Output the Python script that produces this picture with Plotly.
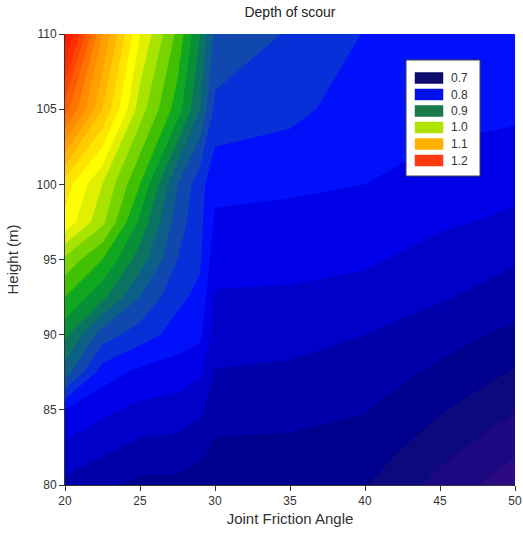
import plotly.graph_objects as go

# Joint friction angle (deg) and height (m) of the sampled grid
friction_angle = [20, 22.5, 25, 27.5, 29, 30, 35, 40, 45, 50]
height = [80, 82.5, 85, 87.5, 90, 92.5, 95, 97.5, 100, 105, 110]

# Depth of scour, one row per height, one column per friction angle
scour_h80 = [0.755, 0.745, 0.735, 0.735, 0.732, 0.726, 0.725, 0.721, 0.693, 0.668]
scour_h82_5 = [0.775, 0.765, 0.755, 0.752, 0.745, 0.737, 0.736, 0.732, 0.708, 0.684]
scour_h85 = [0.800, 0.785, 0.775, 0.772, 0.765, 0.748, 0.746, 0.741, 0.722, 0.701]
scour_h87_5 = [0.870, 0.810, 0.795, 0.790, 0.783, 0.759, 0.756, 0.751, 0.736, 0.718]
scour_h90 = [0.905, 0.850, 0.830, 0.812, 0.805, 0.769, 0.768, 0.760, 0.748, 0.735]
scour_h92_5 = [0.940, 0.905, 0.860, 0.825, 0.815, 0.778, 0.777, 0.773, 0.762, 0.751]
scour_h95 = [0.975, 0.940, 0.890, 0.840, 0.823, 0.788, 0.786, 0.783, 0.772, 0.762]
scour_h97_5 = [1.035, 0.985, 0.915, 0.850, 0.826, 0.797, 0.795, 0.792, 0.783, 0.776]
scour_h100 = [1.050, 1.000, 0.940, 0.860, 0.828, 0.805, 0.803, 0.800, 0.792, 0.786]
scour_h105 = [1.170, 1.080, 0.990, 0.930, 0.880, 0.835, 0.826, 0.809, 0.806, 0.804]
scour_h110 = [1.250, 1.120, 1.020, 0.955, 0.900, 0.855, 0.838, 0.819, 0.812, 0.808]

depth = [scour_h80, scour_h82_5, scour_h85, scour_h87_5, scour_h90, scour_h92_5,
         scour_h95, scour_h97_5, scour_h100, scour_h105, scour_h110]

# Legend entries
legend_levels = ["0.7", "0.8", "0.9", "1.0", "1.1", "1.2"]
legend_colors = ["#0c0c6c", "#0010e6", "#1a7a4a", "#aee400", "#ffb000", "#ff3a10"]

# Contour levels
level_start, level_end, level_step = 0.64, 1.26, 0.02

# Colour of each band (value at band centre -> colour)
band_colors = [
    (0.63, "#440c8c"), (0.65, "#3a0a88"), (0.67, "#2c0a84"), (0.69, "#1c0880"),
    (0.71, "#0c087e"), (0.73, "#00008e"), (0.75, "#0000aa"), (0.77, "#0000c8"),
    (0.79, "#0000e8"), (0.81, "#0010fa"), (0.83, "#0830d8"), (0.85, "#1048b0"),
    (0.87, "#0c6088"), (0.89, "#0a7460"), (0.91, "#089038"), (0.93, "#10a820"),
    (0.95, "#40c000"), (0.97, "#78d400"), (0.99, "#a8e400"), (1.01, "#e0f000"),
    (1.03, "#ffff00"), (1.05, "#ffe400"), (1.07, "#ffcc00"), (1.09, "#ffb400"),
    (1.11, "#ffa000"), (1.13, "#ff8c00"), (1.15, "#ff7400"), (1.17, "#ff5c00"),
    (1.19, "#ff4400"), (1.21, "#ff3000"), (1.23, "#ff2000"), (1.25, "#ff1000"),
    (1.27, "#ff0800"),
]
lo = level_start - level_step / 2
hi = level_end + level_step / 2
colorscale = [[(v - lo) / (hi - lo), c] for v, c in band_colors]

FONT = "Liberation Sans, Arial, sans-serif"

fig = go.Figure()
fig.add_trace(go.Contour(
    x=friction_angle,
    y=height,
    z=depth,
    colorscale=colorscale,
    contours=dict(start=level_start, end=level_end, size=level_step, coloring="fill"),
    line=dict(width=0, smoothing=0),
    showscale=False,
    hoverinfo="x+y+z",
))

# Plot area in pixels: left 65, right 515, top 34, bottom 485
W, H = 523, 540
L, R, T, B = 65, 515, 34, 485


def px_x(px):
    return (px - L) / (R - L)


def px_y(py):
    return (B - py) / (B - T)


shapes = [
    # legend box
    dict(type="rect", xref="paper", yref="paper",
         x0=px_x(406), x1=px_x(480), y0=px_y(176), y1=px_y(60),
         fillcolor="white", line=dict(color="#444", width=1)),
]
annotations = []
row_centers = [78, 94.5, 111, 127.5, 144, 160.5]
for lab, col, cy in zip(legend_levels, legend_colors, row_centers):
    shapes.append(dict(type="rect", xref="paper", yref="paper",
                       x0=px_x(415), x1=px_x(443), y0=px_y(cy + 5.5), y1=px_y(cy - 5.5),
                       fillcolor=col, line=dict(color=col, width=0.5)))
    annotations.append(dict(xref="paper", yref="paper", x=px_x(449), y=px_y(cy),
                            text=lab, showarrow=False, xanchor="left", yanchor="middle",
                            font=dict(family=FONT, size=12, color="#333")))

fig.update_layout(
    width=W, height=H,
    margin=dict(l=L, r=W - R, t=T, b=H - B, autoexpand=False),
    paper_bgcolor="white", plot_bgcolor="white",
    title=dict(text="Depth of scour", x=px_x(290), xref="paper", xanchor="center",
               y=1 - 12 / H, yref="container", yanchor="middle",
               font=dict(family=FONT, size=14, color="#222")),
    xaxis=dict(range=[20, 50], tickvals=[20, 25, 30, 35, 40, 45, 50],
               ticks="outside", ticklen=5, tickcolor="#333", showline=True,
               linecolor="#333", linewidth=1, showgrid=False, zeroline=False,
               automargin=False,
               tickfont=dict(family=FONT, size=12, color="#333"),
               title=dict(text="Joint Friction Angle", standoff=6,
                          font=dict(family=FONT, size=15, color="#333"))),
    yaxis=dict(range=[80, 110], tickvals=[80, 85, 90, 95, 100, 105, 110],
               ticks="outside", ticklen=5, tickcolor="#333", showline=True,
               linecolor="#333", linewidth=1, showgrid=False, zeroline=False,
               automargin=False,
               tickfont=dict(family=FONT, size=12, color="#333"),
               title=dict(text="Height (m)", standoff=14,
                          font=dict(family=FONT, size=15, color="#333"))),
    shapes=shapes,
    annotations=annotations,
)

fig.write_html("out.html")
